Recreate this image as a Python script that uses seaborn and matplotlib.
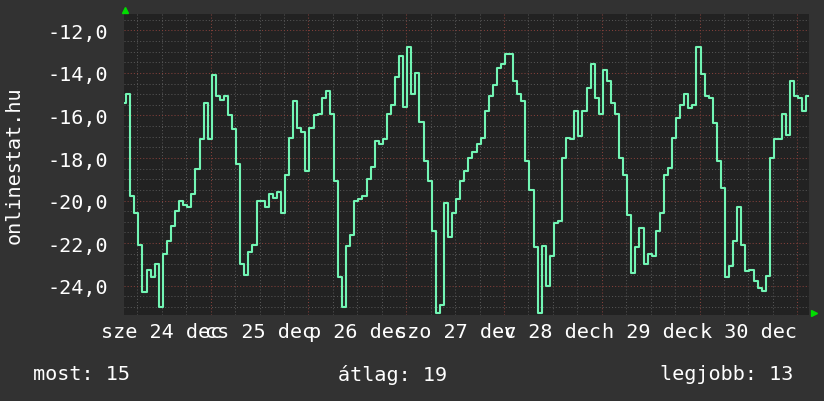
import numpy as np
import pandas as pd
import seaborn as sns
import matplotlib.pyplot as plt
import matplotlib.dates as mdates
from matplotlib.ticker import MultipleLocator, FuncFormatter, NullFormatter

# --- data: hourly rank (negated) ---
start = '2014-12-24 02:45'
rank = [
    -15.4, -15.0, -19.8, -20.6, -22.1, -24.3, -23.25, -23.6, -23.0, -25.0,
    -22.5, -21.9, -21.2, -20.5, -20.0, -20.2, -20.3, -19.7, -18.5, -17.1,
    -15.4, -17.1, -14.1, -15.1, -15.25, -15.1, -16.0, -16.65, -18.3, -23.0,
    -23.5, -22.4, -22.1, -20.0, -20.0, -20.3, -19.7, -19.9, -19.6, -20.6,
    -18.8, -17.05, -15.3, -16.6, -16.8, -18.6, -16.6, -16.0, -15.95, -15.2,
    -14.85, -15.95, -19.1, -23.6, -25.0, -22.15, -21.6, -20.0, -19.95, -19.8,
    -19.0, -18.4, -17.2, -17.35, -17.1, -15.95, -15.5, -14.2, -13.2, -15.6,
    -12.8, -15.0, -14.0, -16.3, -18.15, -19.1, -21.45, -25.3, -24.9, -20.1,
    -21.7, -20.6, -19.95, -19.1, -18.6, -18.0, -17.7, -17.35, -17.05, -15.8,
    -15.1, -14.55, -13.75, -13.6, -13.1, -13.1, -14.4, -15.0, -15.3, -18.15,
    -19.5, -22.2, -25.3, -22.15, -24.0, -22.6, -21.05, -20.95, -18.0, -17.05,
    -17.1, -15.8, -16.97, -15.8, -14.7, -13.6, -15.2, -15.95, -13.85, -14.4,
    -15.4, -15.95, -18.0, -18.8, -20.7, -23.4, -22.2, -21.3, -23.0, -22.5,
    -22.6, -21.45, -20.6, -18.8, -18.46, -17.05, -16.1, -15.5, -15.0, -15.65,
    -15.5, -12.8, -14.07, -15.1, -15.2, -16.35, -18.15, -19.4, -23.6, -23.1,
    -21.9, -20.3, -22.1, -23.3, -23.25, -23.8, -24.1, -24.25, -23.55, -18.0,
    -17.1, -17.1, -15.95, -16.9, -14.4, -15.1, -15.2, -15.8, -15.1,
]
times = pd.date_range(start, periods=len(rank), freq='h')

hu_days = ['h', 'k', 'sze', 'cs', 'p', 'szo', 'v']
stat_labels = ['most', 'átlag', 'legjobb']
stat_values = [15, 19, 13]

bg = '#323232'
plot_bg = '#222222'
line_col = '#72f5b4'
minor_col = '#555555'
major_col = '#83403a'
font = ['DejaVu Sans Mono']

sns.set_theme(style='dark')
plt.rcParams['font.family'] = font

fig = plt.figure(figsize=(8.24, 4.02), dpi=100, facecolor=bg)
ax = fig.add_axes([124 / 824, 1 - 316 / 402, 685 / 824, 301 / 402])
ax.set_facecolor(plot_bg)

sns.lineplot(x=times, y=rank, ax=ax, color=line_col, lw=1.5, drawstyle='steps-mid')

ax.set_xlim(pd.Timestamp('2014-12-24 02:43'), pd.Timestamp('2014-12-31 02:52'))
ax.set_ylim(-25.38, -11.23)

# grids: red dotted on major, grey dotted on minor
ax.yaxis.set_major_locator(MultipleLocator(2))
ax.yaxis.set_minor_locator(MultipleLocator(0.5))
ax.yaxis.set_major_formatter(FuncFormatter(lambda v, p: f'{v:.1f}'.replace('.', ',')))
ax.xaxis.set_major_locator(mdates.DayLocator())
ax.xaxis.set_major_formatter(NullFormatter())
ax.xaxis.set_minor_locator(mdates.HourLocator(byhour=[0, 6, 12, 18]))


def day_label(x, pos):
    d = mdates.num2date(x)
    if d.hour == 12:
        return f'{hu_days[d.weekday()]} {d.day} dec'
    return ''


ax.xaxis.set_minor_formatter(FuncFormatter(day_label))

ax.grid(True, which='major', color=major_col, lw=0.75, linestyle=(0, (1, 2)))
ax.grid(True, which='minor', color=minor_col, lw=0.75, linestyle=(0, (1, 2)))
ax.set_axisbelow(True)

ax.tick_params(axis='both', which='both', length=0, colors='white', labelsize=14.5)
ax.tick_params(axis='y', pad=11.5)
ax.tick_params(axis='x', which='minor', pad=5)
for s in ax.spines.values():
    s.set_visible(False)
ax.set_xlabel('')
ax.set_ylabel('')

# rrdtool style arrows
ax.plot([0.002], [1.013], marker='^', color='#00dd00', ms=5, transform=ax.transAxes, clip_on=False)
ax.plot([1.0066], [0.005], marker='>', color='#00dd00', ms=5, transform=ax.transAxes, clip_on=False)

fig.text(14 / 824, 1 - 165 / 402, 'onlinestat.hu', rotation=90, color='white',
         fontsize=14.5, ha='center', va='center')

ly = 1 - 375 / 402
fig.text(33 / 824, ly, f'{stat_labels[0]}: {stat_values[0]}', color='white', fontsize=14.5, ha='left', va='center')
fig.text(393 / 824, ly, f'{stat_labels[1]}: {stat_values[1]}', color='white', fontsize=14.5, ha='center', va='center')
fig.text(793 / 824, ly, f'{stat_labels[2]}: {stat_values[2]}', color='white', fontsize=14.5, ha='right', va='center')

fig.savefig('out.png', dpi=100, facecolor=bg)
